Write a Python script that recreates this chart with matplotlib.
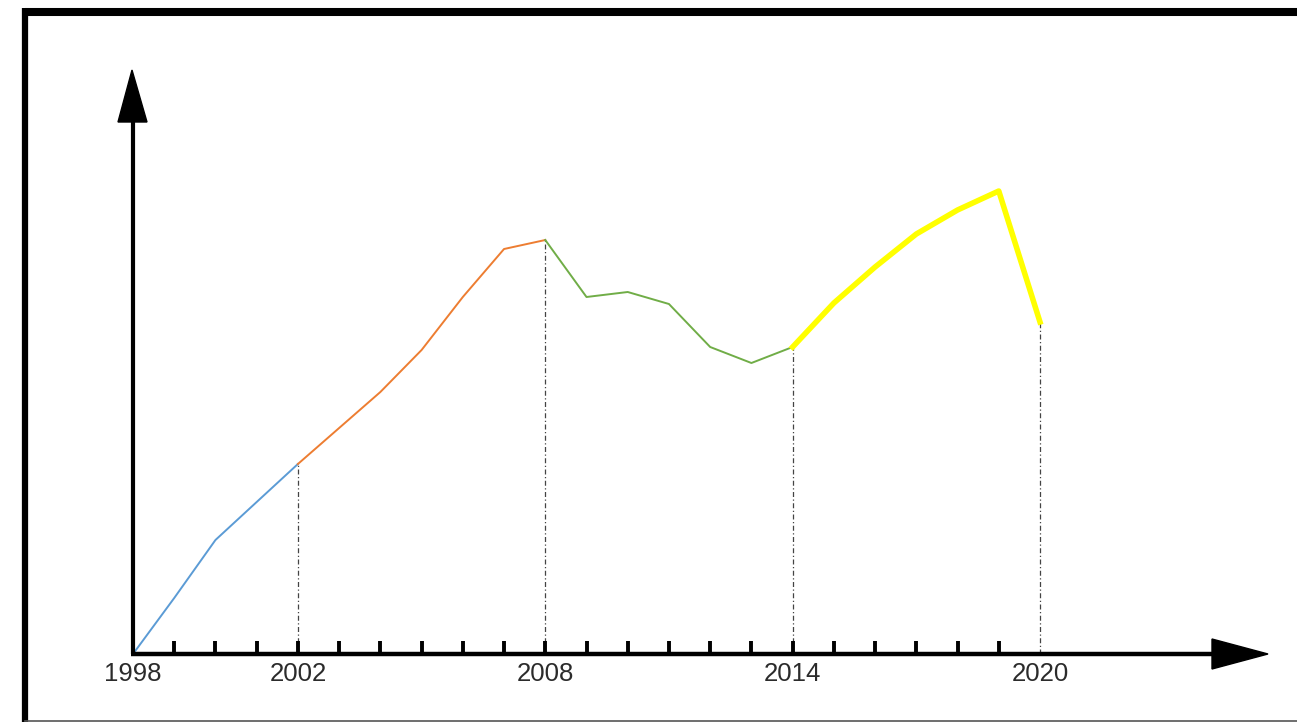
import matplotlib
matplotlib.use("Agg")
import matplotlib.pyplot as plt
from matplotlib.lines import Line2D
from matplotlib.patches import Polygon

# ---- data (arbitrary index units) ----
years_blue = [1998, 1999, 2000, 2001, 2002]
vals_blue = [0.0, 5.6, 11.4, 15.2, 19.0]
years_orange = [2002, 2003, 2004, 2005, 2006, 2007, 2008]
vals_orange = [19.0, 22.6, 26.2, 30.4, 35.7, 40.5, 41.4]
years_green = [2008, 2009, 2010, 2011, 2012, 2013, 2014]
vals_green = [41.4, 35.7, 36.2, 35.0, 30.7, 29.1, 30.7]
years_yellow = [2014, 2015, 2016, 2017, 2018, 2019, 2020]
vals_yellow = [30.7, 35.1, 38.7, 42.0, 44.4, 46.3, 33.2]
marked_years = [2002, 2008, 2014, 2020]
tick_labels = ["1998", "2002", "2008", "2014", "2020"]
label_years = [1998, 2002, 2008, 2014, 2020]
minor_years = list(range(1999, 2020))

W, H = 1297, 722
fig = plt.figure(figsize=(W / 100, H / 100), dpi=100)
ax = fig.add_axes([0, 0, 1, 1])
ax.set_axis_off()

# pixel mapping: 1998 -> x=133, 2020 -> x=1040 ; value 0 -> y=654, 1 unit = 10 px
ppy = (1040 - 133) / 22.0
x0 = 1998 - 133 / ppy
x1 = 1998 + (W - 133) / ppy
ax.set_xlim(x0, x1)
ax.set_ylim(-(H - 654) / 10.0, 654 / 10.0)

def px_x(p):
    return 1998 + (p - 133) / ppy

def px_y(p):
    return (654 - p) / 10.0

# frame
fig.add_artist(Line2D([25 / W, 1.0], [1 - 12 / H, 1 - 12 / H], color="black", lw=5.8, transform=fig.transFigure, solid_capstyle="butt"))
fig.add_artist(Line2D([25 / W, 25 / W], [0, 1 - 8 / H], color="black", lw=4.5, transform=fig.transFigure, solid_capstyle="butt"))
fig.add_artist(Line2D([25 / W, 1.0], [1.5 / H, 1.5 / H], color="#555555", lw=1.2, transform=fig.transFigure))

# axes lines with arrows
ax.plot([1998, 1998], [0, px_y(118)], color="black", lw=3, solid_capstyle="butt", zorder=5)
ax.add_patch(Polygon([[px_x(118), px_y(122)], [px_x(147), px_y(122)], [px_x(132), px_y(70)]],
                     closed=True, color="black", zorder=5))
ax.plot([px_x(131), px_x(1215)], [0, 0], color="black", lw=3.2, solid_capstyle="butt", zorder=5)
ax.add_patch(Polygon([[px_x(1212), px_y(639)], [px_x(1212), px_y(669)], [px_x(1268), px_y(654)]],
                     closed=True, color="black", zorder=5))

# ticks
ax.vlines(minor_years, 0, 1.3, color="black", lw=2.8, zorder=5)

# tick labels
for yr, lab in zip(label_years, tick_labels):
    ax.text(yr, px_y(674), lab, ha="center", va="center", fontsize=18.5,
            family="Liberation Sans", color="#2b2b2b")

# series
ax.plot(years_blue, vals_blue, color="#5B9BD5", lw=1.4, zorder=3)
ax.plot(years_orange, vals_orange, color="#ED7D31", lw=1.4, zorder=3)
ax.plot(years_green, vals_green, color="#70AD47", lw=1.4, zorder=3)
ax.plot(years_yellow, vals_yellow, color="#FFFF00", lw=4.0, zorder=3,
        solid_joinstyle="round")

# dashed guides
all_years = years_blue + years_orange + years_green + years_yellow
all_vals = vals_blue + vals_orange + vals_green + vals_yellow
lookup = dict(zip(all_years, all_vals))
for yr in marked_years:
    ax.plot([yr, yr], [0, lookup[yr]], color="#444444", lw=0.9,
            linestyle=(0, (4, 2, 1, 2)), zorder=2)

fig.savefig("out.png", dpi=100)
